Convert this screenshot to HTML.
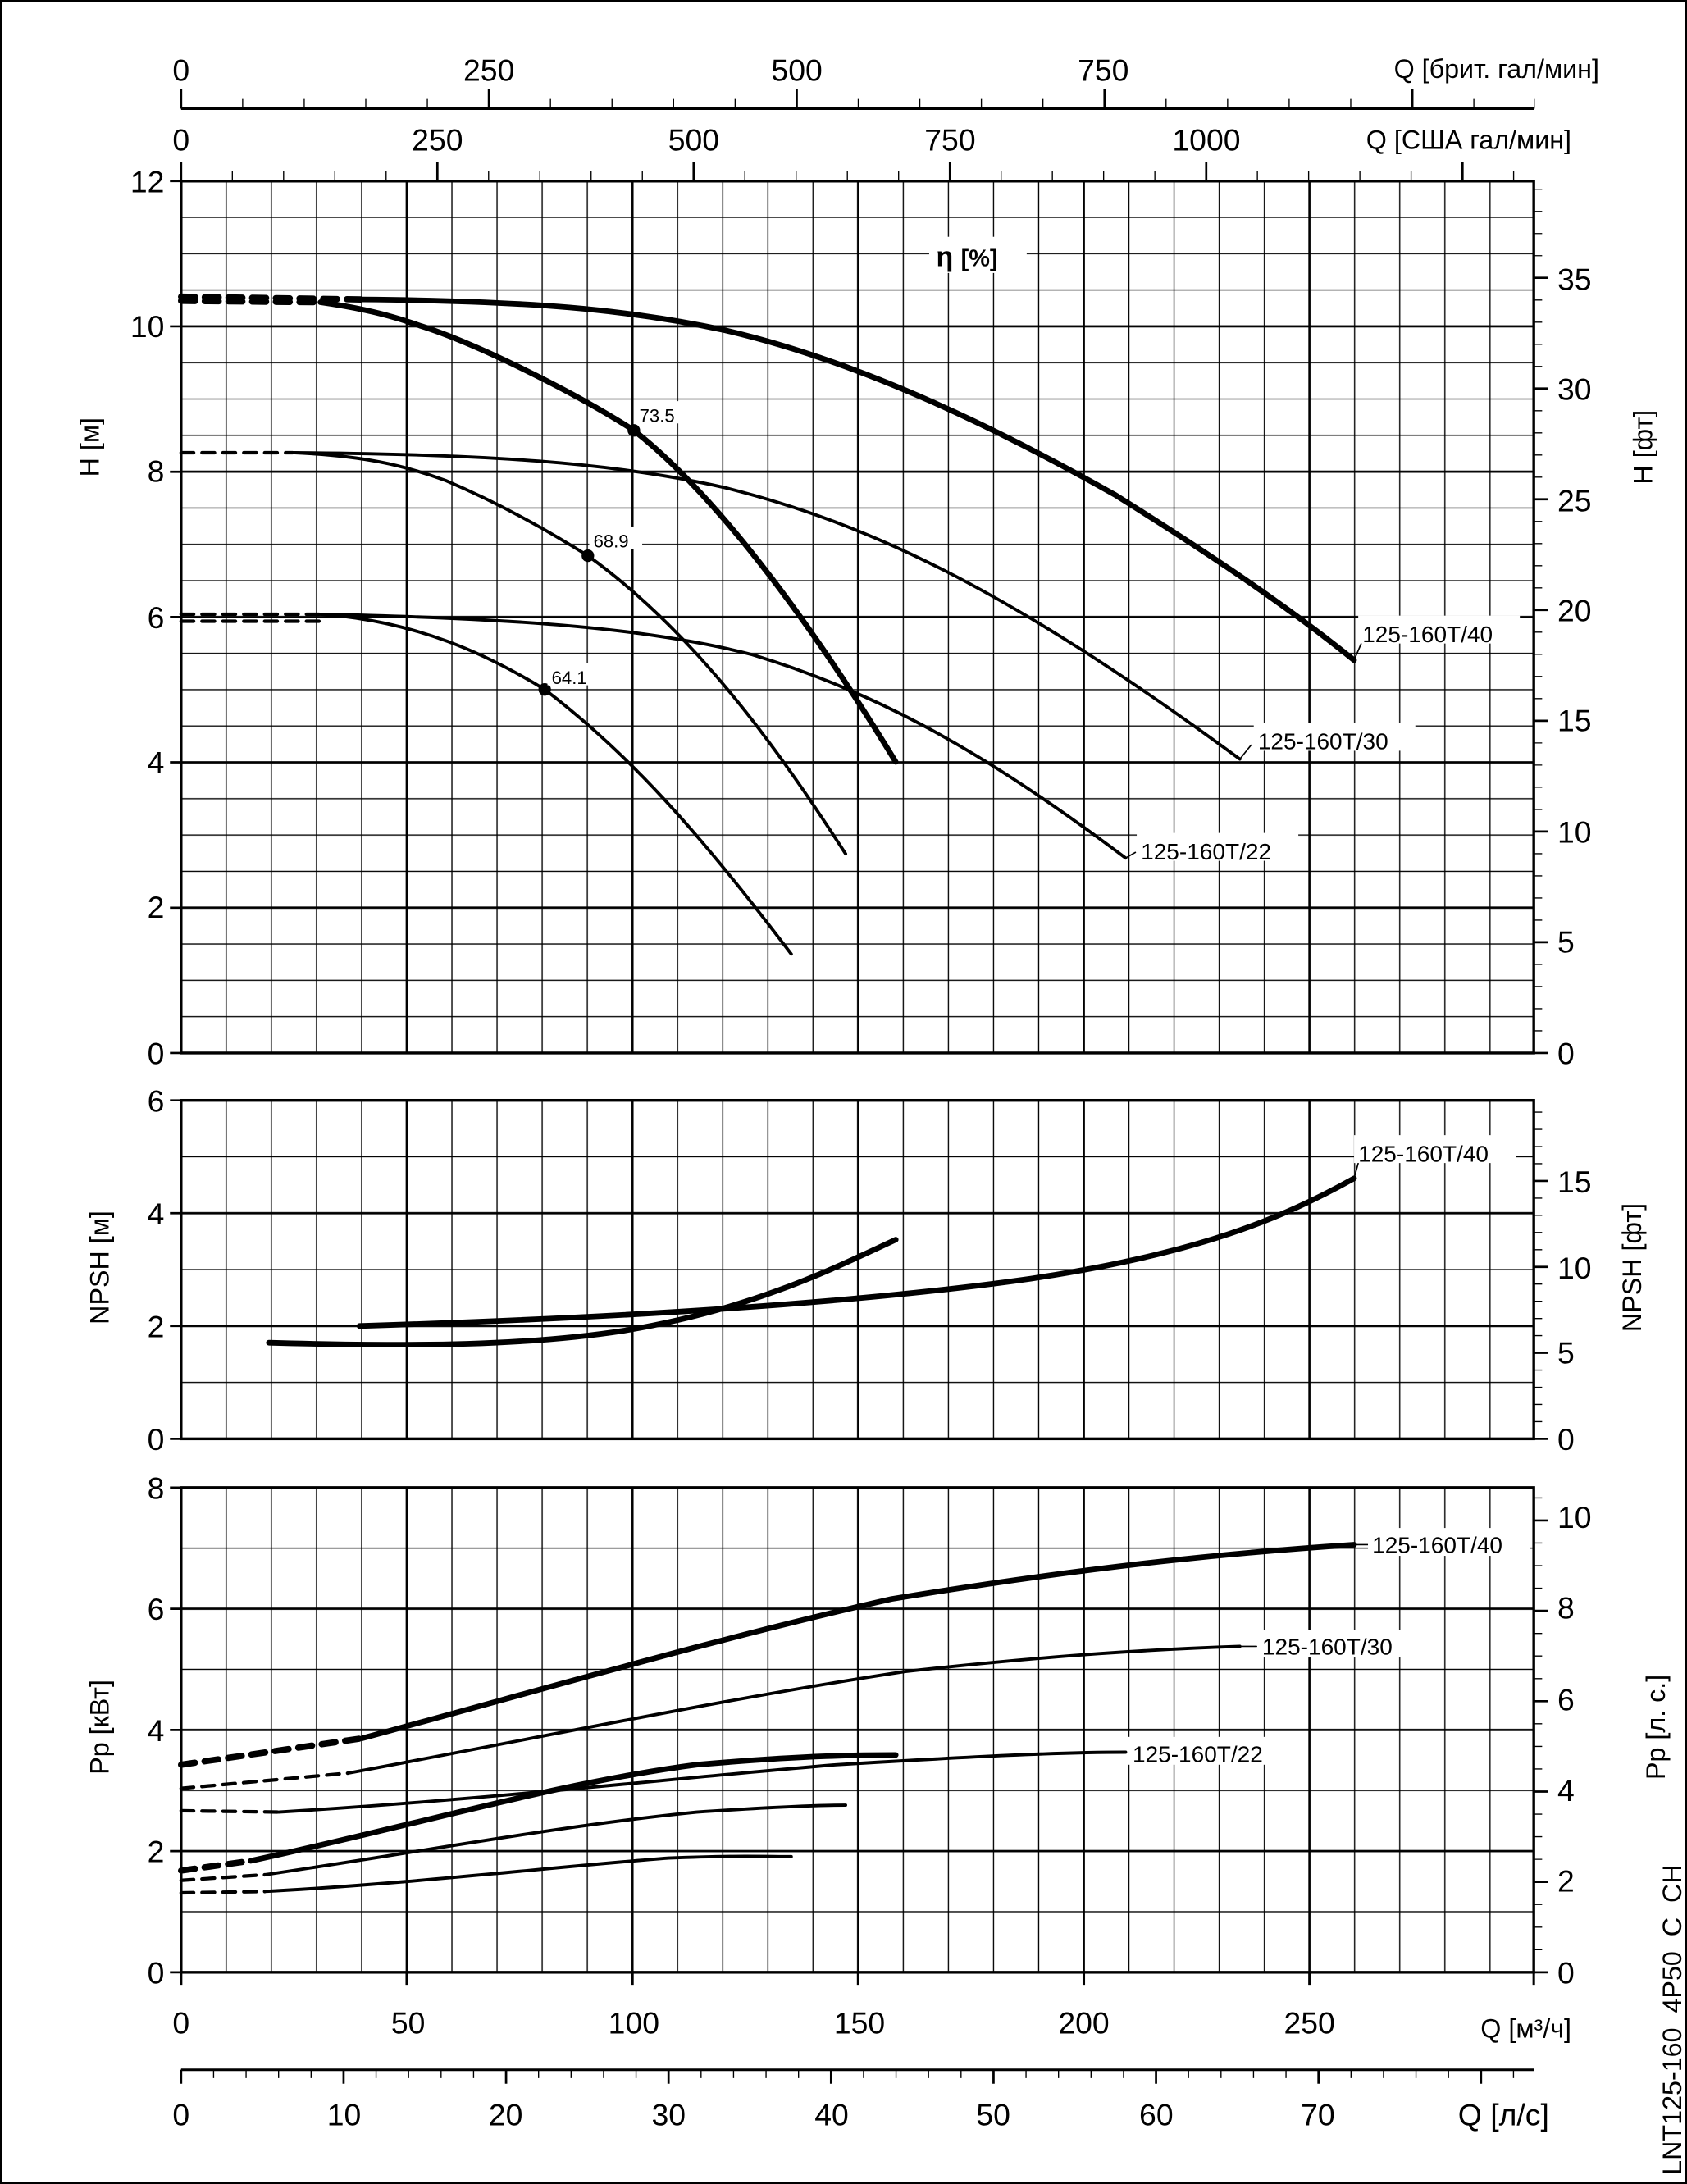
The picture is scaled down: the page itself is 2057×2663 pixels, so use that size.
<!DOCTYPE html>
<html><head><meta charset="utf-8">
<style>
html,body{margin:0;padding:0;background:#fff;}
svg{display:block;}
text{font-family:"Liberation Sans","Noto Sans CJK SC",sans-serif;fill:#000;}
</style></head>
<body>
<svg width="2057" height="2663" viewBox="0 0 1211 1568" preserveAspectRatio="none" xmlns="http://www.w3.org/2000/svg">
<defs>
<pattern id="vmin" patternUnits="userSpaceOnUse" x="130" y="0" width="32.4" height="100"><rect x="-0.4" y="0" width="0.8" height="100" fill="#000"/><rect x="32.0" y="0" width="0.8" height="100" fill="#000"/></pattern>
<pattern id="vmaj" patternUnits="userSpaceOnUse" x="130" y="0" width="162" height="100"><rect x="-0.8" y="0" width="1.6" height="100" fill="#000"/><rect x="161.2" y="0" width="1.6" height="100" fill="#000"/></pattern>
<pattern id="hH" patternUnits="userSpaceOnUse" x="0" y="756" width="100" height="26.085"><rect x="0" y="-0.4" width="100" height="0.8" fill="#000"/><rect x="0" y="25.685" width="100" height="0.8" fill="#000"/></pattern>
<pattern id="hHm" patternUnits="userSpaceOnUse" x="0" y="756" width="100" height="104.34"><rect x="0" y="-0.8" width="100" height="1.6" fill="#000"/><rect x="0" y="103.54" width="100" height="1.6" fill="#000"/></pattern>
<pattern id="hN" patternUnits="userSpaceOnUse" x="0" y="1033" width="100" height="40.5"><rect x="0" y="-0.4" width="100" height="0.8" fill="#000"/><rect x="0" y="40.1" width="100" height="0.8" fill="#000"/></pattern>
<pattern id="hNm" patternUnits="userSpaceOnUse" x="0" y="1033" width="100" height="81"><rect x="0" y="-0.8" width="100" height="1.6" fill="#000"/><rect x="0" y="80.2" width="100" height="1.6" fill="#000"/></pattern>
<pattern id="hP" patternUnits="userSpaceOnUse" x="0" y="1416" width="100" height="43.5"><rect x="0" y="-0.4" width="100" height="0.8" fill="#000"/><rect x="0" y="43.1" width="100" height="0.8" fill="#000"/></pattern>
<pattern id="hPm" patternUnits="userSpaceOnUse" x="0" y="1416" width="100" height="87"><rect x="0" y="-0.8" width="100" height="1.6" fill="#000"/><rect x="0" y="86.2" width="100" height="1.6" fill="#000"/></pattern>
</defs>
<rect x="0.5" y="0.5" width="1210" height="1567" fill="#fff" stroke="#000" stroke-width="1.5"/>
<rect x="130" y="130" width="971" height="626" fill="url(#vmin)"/>
<rect x="130" y="130" width="971" height="626" fill="url(#vmaj)"/>
<rect x="130" y="130" width="971" height="626" fill="url(#hH)"/>
<rect x="130" y="130" width="971" height="626" fill="url(#hHm)"/>
<rect x="130" y="790" width="971" height="243" fill="url(#vmin)"/>
<rect x="130" y="790" width="971" height="243" fill="url(#vmaj)"/>
<rect x="130" y="790" width="971" height="243" fill="url(#hN)"/>
<rect x="130" y="790" width="971" height="243" fill="url(#hNm)"/>
<rect x="130" y="1068" width="971" height="348" fill="url(#vmin)"/>
<rect x="130" y="1068" width="971" height="348" fill="url(#vmaj)"/>
<rect x="130" y="1068" width="971" height="348" fill="url(#hP)"/>
<rect x="130" y="1068" width="971" height="348" fill="url(#hPm)"/>
<g fill="none" stroke="#000" stroke-width="2">
<rect x="130" y="130" width="971" height="626"/>
<rect x="130" y="790" width="971" height="243"/>
<rect x="130" y="1068" width="971" height="348"/>
<path d="M122,130H130M122,234.3H130M122,338.7H130M122,443H130M122,547.3H130M122,651.7H130M122,756H130M122,790H130M122,871H130M122,952H130M122,1033H130M122,1068H130M122,1155H130M122,1242H130M122,1329H130M122,1416H130" stroke-width="1.6"/>
<path d="M130,1416V1425M292,1416V1425M454,1416V1425M616,1416V1425M778,1416V1425M940,1416V1425M1101,1416V1425" stroke-width="1.8"/>
<path d="M130,78H1101M130,1486H1101" stroke-width="1.8"/>
</g>
<g fill="none" stroke="#000">
<path d="M1104,756.4V130" stroke-width="6" stroke-dasharray="0.8 15.101"/>
<path d="M1106,756.8V130" stroke-width="10" stroke-dasharray="1.6 77.91"/>
<path d="M1104,1033.4V790" stroke-width="6" stroke-dasharray="0.8 11.544"/>
<path d="M1106,1033.8V790" stroke-width="10" stroke-dasharray="1.6 60.12"/>
<path d="M1104,1416.4V1068" stroke-width="6" stroke-dasharray="0.8 15.419"/>
<path d="M1106,1416.8V1068" stroke-width="10" stroke-dasharray="1.6 63.276"/>
<path d="M129.6,74.5H1102" stroke-width="7" stroke-dasharray="0.8 43.39"/>
<path d="M129.2,71H1102" stroke-width="14" stroke-dasharray="1.6 219.36"/>
<path d="M129.6,126.5H1102" stroke-width="7" stroke-dasharray="0.8 35.99"/>
<path d="M129.2,123H1102" stroke-width="14" stroke-dasharray="1.6 182.37"/>
<path d="M129.6,1489H1102" stroke-width="6" stroke-dasharray="0.8 22.528"/>
<path d="M129.2,1491H1102" stroke-width="10" stroke-dasharray="1.6 115.04"/>
</g>
<g fill="none" stroke="#000" stroke-linecap="round" stroke-linejoin="round">
<path d="M130,213 L260,215" stroke-width="4.5" stroke-dasharray="10,7"/>
<path d="M130,216 L230,217" stroke-width="4.5" stroke-dasharray="10,7"/>
<path d="M260,215 C380,216 450,222 520,237 C620,260 720,310 800,355 C880,405 930,440 972,474" stroke-width="4"/>
<path d="M230,217 C265,222 285,228 302,234 C340,246 410,280 455,309 C520,360 590,460 643,547" stroke-width="4"/>
<path d="M130,325 L210,325" stroke-width="2.5" stroke-dasharray="9,6"/>
<path d="M210,325 C350,326 440,332 520,350 C620,375 720,420 890,545" stroke-width="2.3"/>
<path d="M210,325 C260,327 290,334 320,345 C360,362 395,382 422,399 C500,455 560,540 607,613" stroke-width="2.3"/>
<path d="M130,441 L230,441" stroke-width="2.5" stroke-dasharray="9,6"/>
<path d="M130,446 L230,446" stroke-width="2.5" stroke-dasharray="9,6"/>
<path d="M230,441 C380,444 470,452 540,470 C640,500 720,550 808,616" stroke-width="2.3"/>
<path d="M230,441 C300,446 350,470 391,495 C450,540 500,595 568,685" stroke-width="2.3"/>
<path d="M193,964 C300,967 380,966 450,955 C540,940 600,910 643,890" stroke-width="4"/>
<path d="M258,952 C450,946 620,935 740,918 C860,900 920,875 972,846" stroke-width="4"/>
<path d="M130,1267 L260,1248" stroke-width="4.5" stroke-dasharray="10,7"/>
<path d="M260,1248 C400,1210 520,1175 640,1148 C780,1125 880,1115 972,1109" stroke-width="4"/>
<path d="M130,1284 L250,1273" stroke-width="2.5" stroke-dasharray="9,6"/>
<path d="M250,1273 C400,1245 530,1218 650,1200 C760,1188 830,1184 890,1182" stroke-width="2.3"/>
<path d="M130,1300 L200,1301" stroke-width="2.5" stroke-dasharray="9,6"/>
<path d="M200,1301 C350,1292 480,1277 600,1267 C700,1261 760,1258 808,1258" stroke-width="2.3"/>
<path d="M130,1343 L180,1336" stroke-width="4.5" stroke-dasharray="10,7"/>
<path d="M180,1336 C300,1310 400,1280 500,1267 C580,1260 620,1260 643,1260" stroke-width="4"/>
<path d="M130,1350 L190,1346" stroke-width="2.5" stroke-dasharray="9,6"/>
<path d="M190,1346 C300,1330 400,1311 500,1301 C560,1297 590,1296 607,1296" stroke-width="2.3"/>
<path d="M130,1359 L190,1358" stroke-width="2.5" stroke-dasharray="9,6"/>
<path d="M190,1358 C300,1352 400,1340 480,1334 C530,1332 550,1333 568,1333" stroke-width="2.3"/>
<path d="M972,474 L978,460 M890,545 L898,535 M808,616 L815,612 M972,846 L975,835 M972,1109 L982,1109 M890,1182 L902,1182" stroke-width="1"/>
</g>
<g fill="#000">
<circle cx="455" cy="309" r="4.5"/><circle cx="422" cy="399" r="4.5"/><circle cx="391" cy="495" r="4.5"/>
</g>
<g font-size="13">
<rect x="456" y="288" width="38" height="16" fill="#fff"/><text x="459" y="303">73.5</text>
<rect x="423" y="378" width="38" height="16" fill="#fff"/><text x="426" y="393">68.9</text>
<rect x="393" y="476" width="38" height="16" fill="#fff"/><text x="396" y="491">64.1</text>
</g>
<g font-size="16.5">
<rect x="975" y="442" width="116" height="20" fill="#fff"/><text x="978" y="461">125-160T/40</text>
<rect x="900" y="519" width="116" height="20" fill="#fff"/><text x="903" y="538">125-160T/30</text>
<rect x="816" y="598" width="116" height="20" fill="#fff"/><text x="819" y="617">125-160T/22</text>
<rect x="972" y="815" width="116" height="20" fill="#fff"/><text x="975" y="834">125-160T/40</text>
<rect x="982" y="1097" width="116" height="20" fill="#fff"/><text x="985" y="1115">125-160T/40</text>
<rect x="903" y="1170" width="116" height="20" fill="#fff"/><text x="906" y="1188">125-160T/30</text>
<rect x="810" y="1247" width="116" height="20" fill="#fff"/><text x="813" y="1265">125-160T/22</text>
<rect x="667" y="170" width="70" height="26" fill="#fff"/>
<text x="672" y="191" font-weight="bold" font-size="20">η <tspan font-size="17">[%]</tspan></text>
</g>
<g font-size="22">
<text x="130" y="58" text-anchor="middle">0</text>
<text x="351" y="58" text-anchor="middle">250</text>
<text x="572" y="58" text-anchor="middle">500</text>
<text x="792" y="58" text-anchor="middle">750</text>
<text x="1148" y="56" text-anchor="end" font-size="19">Q [брит. гал/мин]</text>
<text x="130" y="108" text-anchor="middle">0</text>
<text x="314" y="108" text-anchor="middle">250</text>
<text x="498" y="108" text-anchor="middle">500</text>
<text x="682" y="108" text-anchor="middle">750</text>
<text x="866" y="108" text-anchor="middle">1000</text>
<text x="1128" y="107" text-anchor="end" font-size="19">Q [США гал/мин]</text>
<text x="118" y="138" text-anchor="end">12</text>
<text x="118" y="242" text-anchor="end">10</text>
<text x="118" y="346" text-anchor="end">8</text>
<text x="118" y="451" text-anchor="end">6</text>
<text x="118" y="555" text-anchor="end">4</text>
<text x="118" y="659" text-anchor="end">2</text>
<text x="118" y="764" text-anchor="end">0</text>
<text x="1118" y="208">35</text><text x="1118" y="287">30</text><text x="1118" y="367">25</text>
<text x="1118" y="446">20</text><text x="1118" y="525">15</text><text x="1118" y="605">10</text>
<text x="1118" y="684">5</text><text x="1118" y="764">0</text>
<text x="118" y="798" text-anchor="end">6</text><text x="118" y="879" text-anchor="end">4</text>
<text x="118" y="960" text-anchor="end">2</text><text x="118" y="1041" text-anchor="end">0</text>
<text x="1118" y="856">15</text><text x="1118" y="918">10</text><text x="1118" y="979">5</text><text x="1118" y="1041">0</text>
<text x="118" y="1076" text-anchor="end">8</text><text x="118" y="1163" text-anchor="end">6</text>
<text x="118" y="1250" text-anchor="end">4</text><text x="118" y="1337" text-anchor="end">2</text>
<text x="118" y="1424" text-anchor="end">0</text>
<text x="1118" y="1097">10</text><text x="1118" y="1162">8</text><text x="1118" y="1228">6</text>
<text x="1118" y="1293">4</text><text x="1118" y="1358">2</text><text x="1118" y="1424">0</text>
<text x="130" y="1460" text-anchor="middle">0</text><text x="293" y="1460" text-anchor="middle">50</text>
<text x="455" y="1460" text-anchor="middle">100</text><text x="617" y="1460" text-anchor="middle">150</text>
<text x="778" y="1460" text-anchor="middle">200</text><text x="940" y="1460" text-anchor="middle">250</text>
<text x="1128" y="1463" text-anchor="end" font-size="19">Q [м³/ч]</text>
<text x="130" y="1526" text-anchor="middle">0</text>
<text x="247" y="1526" text-anchor="middle">10</text><text x="363" y="1526" text-anchor="middle">20</text>
<text x="480" y="1526" text-anchor="middle">30</text><text x="597" y="1526" text-anchor="middle">40</text>
<text x="713" y="1526" text-anchor="middle">50</text><text x="830" y="1526" text-anchor="middle">60</text>
<text x="946" y="1526" text-anchor="middle">70</text>
<text x="1112" y="1526" text-anchor="end">Q [л/с]</text>
</g>
<g font-size="19">
<text transform="translate(71,321) rotate(-90)" text-anchor="middle">H [м]</text>
<text transform="translate(1186,321) rotate(-90)" text-anchor="middle">H [фт]</text>
<text transform="translate(78,910) rotate(-90)" text-anchor="middle">NPSH [м]</text>
<text transform="translate(1178,910) rotate(-90)" text-anchor="middle">NPSH [фт]</text>
<text transform="translate(78,1240) rotate(-90)" text-anchor="middle">Pp [кВт]</text>
<text transform="translate(1195,1240) rotate(-90)" text-anchor="middle">Pp [л. с.]</text>
<text transform="translate(1207,1450) rotate(-90)" text-anchor="middle">LNT125-160_4P50_C_CH</text>
</g>
</svg>
</body></html>
